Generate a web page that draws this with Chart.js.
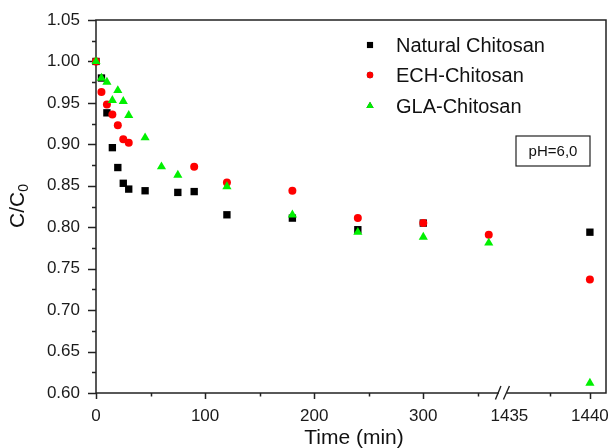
<!DOCTYPE html>
<html>
<head>
<meta charset="utf-8">
<script src="https://cdn.jsdelivr.net/npm/chart.js@4.4.1/dist/chart.umd.min.js"></script>
<style>
  html, body { margin: 0; padding: 0; background: #fff; }
  #wrap { width: 613px; height: 448px; }
</style>
</head>
<body>
<div id="wrap"><canvas id="chart1" width="613" height="448"></canvas></div>
<script>
// data (time in min, C/C0)
var naturalTime = [0, 5, 10, 15, 20, 25, 30, 45, 75, 90, 120, 180, 240, 300, 1440];
var naturalVal  = [1.00, 0.980, 0.938, 0.896, 0.872, 0.853, 0.846, 0.844, 0.842, 0.843, 0.815, 0.811, 0.797, 0.805, 0.794];

var echTime = [0, 5, 10, 15, 20, 25, 30, 90, 120, 180, 240, 300, 360, 1440];
var echVal  = [1.00, 0.963, 0.948, 0.936, 0.923, 0.906, 0.902, 0.873, 0.854, 0.844, 0.811, 0.805, 0.791, 0.737];

var glaTime = [0, 5, 10, 15, 20, 25, 30, 45, 60, 75, 120, 180, 240, 300, 360, 1440];
var glaVal  = [1.00, 0.980, 0.975, 0.953, 0.965, 0.952, 0.935, 0.908, 0.873, 0.863, 0.849, 0.815, 0.794, 0.788, 0.781, 0.612];

var xMajor = [0, 100, 200, 300, 1435, 1440];
var xMinor = [50, 150, 250, 350, 1437.5];
var yMajor = [0.60, 0.65, 0.70, 0.75, 0.80, 0.85, 0.90, 0.95, 1.00, 1.05];

// broken time axis: 0..373 linear, then 1434.6..1441 stretched
var BREAK_LO = 373;
var BREAK_HI = 1434.6;
var STRETCH = 14.76;
function toAxis(t) {
  if (t <= BREAK_LO) return t;
  return BREAK_LO + (t - BREAK_HI) * STRETCH;
}
var X_MAX = toAxis(1441);

function pts(times, vals) {
  return times.map(function (t, i) { return { x: toAxis(t), y: vals[i] }; });
}

function noPad(scale) {
  scale.paddingLeft = 0;
  scale.paddingRight = 0;
  scale.paddingTop = 0;
  scale.paddingBottom = 0;
}

var FONT = "'Liberation Sans', Arial, sans-serif";
var GREEN = "#00f000";

const ctx = document.getElementById("chart1");

var myChart = new Chart(ctx, {
  type: "scatter",
  data: {
    datasets: [
      {
        label: "Natural Chitosan",
        data: pts(naturalTime, naturalVal),
        pointStyle: "rect",
        pointRadius: 5.2,
        backgroundColor: "#000",
        borderWidth: 0,
        legendRadius: 4.3,
        order: 3,
        clip: false,
      },
      {
        label: "ECH-Chitosan",
        data: pts(echTime, echVal),
        pointStyle: "circle",
        pointRadius: 4,
        backgroundColor: "#ff0000",
        borderWidth: 0,
        legendRadius: 3.2,
        order: 2,
        clip: false,
      },
      {
        label: "GLA-Chitosan",
        data: pts(glaTime, glaVal),
        pointStyle: "triangle",
        pointRadius: 5.3,
        backgroundColor: GREEN,
        borderWidth: 0,
        legendRadius: 4.2,
        order: 1,
        clip: false,
      },
    ],
  },
  options: {
    responsive: false,
    animation: false,
    events: [],
    layout: { padding: { top: 20, right: 7, left: 0, bottom: 0 } },
    plugins: {
      legend: { display: false },
      tooltip: { enabled: false },
    },
    scales: {
      x: {
        type: "linear",
        min: 0,
        max: X_MAX,
        grid: { display: false, drawTicks: false },
        border: { display: false },
        afterBuildTicks: function (scale) {
          scale.ticks = xMajor.map(function (t) { return { value: toAxis(t) }; });
        },
        afterFit: function (scale) { scale.height = 55; noPad(scale); },
        ticks: {
          padding: 13,
          maxRotation: 0,
          autoSkip: false,
          color: "#1a1a1a",
          font: { family: FONT, size: 17 },
          callback: function (value, index) { return String(xMajor[index]); },
        },
      },
      y: {
        min: 0.6,
        max: 1.05,
        grid: { display: false, drawTicks: false },
        border: { display: false },
        afterBuildTicks: function (scale) {
          scale.ticks = yMajor.map(function (v) { return { value: v }; });
        },
        afterFit: function (scale) { scale.width = 96; noPad(scale); },
        ticks: {
          padding: 16,
          autoSkip: false,
          color: "#1a1a1a",
          font: { family: FONT, size: 17 },
          callback: function (value) { return value.toFixed(2); },
        },
      },
    },
  },
  plugins: [
    {
      id: "frameAndExtras",
      beforeDatasetsDraw: (chart) => {
        const c = chart.ctx;
        const xs = chart.scales.x, ys = chart.scales.y;
        const { left, right, top, bottom } = chart.chartArea;
        c.save();
        c.strokeStyle = "#222";
        c.lineWidth = 1.5;
        // frame
        c.strokeRect(left, top, right - left, bottom - top);

        // y ticks
        c.beginPath();
        yMajor.forEach(function (v) {
          var py = Math.round(ys.getPixelForValue(v)) + 0.5;
          c.moveTo(left - 8, py); c.lineTo(left, py);
        });
        for (var i = 0; i < yMajor.length - 1; i++) {
          var pm = Math.round(ys.getPixelForValue((yMajor[i] + yMajor[i + 1]) / 2)) + 0.5;
          c.moveTo(left - 4, pm); c.lineTo(left, pm);
        }
        // x ticks
        xMajor.forEach(function (t) {
          if (t === 1435) return; // hidden under the break mark
          var px = Math.round(xs.getPixelForValue(toAxis(t))) + 0.5;
          c.moveTo(px, bottom); c.lineTo(px, bottom + 6);
        });
        xMinor.forEach(function (t) {
          var px = Math.round(xs.getPixelForValue(toAxis(t))) + 0.5;
          c.moveTo(px, bottom); c.lineTo(px, bottom + 3.5);
        });
        c.stroke();

        // axis break "//"
        var bx = xs.getPixelForValue(toAxis(BREAK_LO));
        c.fillStyle = "#fff";
        c.fillRect(bx - 4, bottom - 2, 8, 4);
        c.lineWidth = 1.4;
        c.beginPath();
        c.moveTo(bx - 7.5, bottom + 6.5); c.lineTo(bx - 2, bottom - 7);
        c.moveTo(bx + 0.5, bottom + 6.5); c.lineTo(bx + 6.5, bottom - 7);
        c.stroke();
        c.restore();
      },
      afterDraw: (chart) => {
        const c = chart.ctx;
        const { left, right } = chart.chartArea;
        c.save();
        // legend
        c.fillStyle = "#111";
        c.font = "20px " + FONT;
        c.textBaseline = "middle";
        c.textAlign = "left";
        var legY = [45, 75, 106];
        chart.data.datasets.forEach(function (ds, k) {
          Chart.helpers.drawPoint(c, {
            pointStyle: ds.pointStyle,
            radius: ds.legendRadius,
            borderWidth: 0,
            rotation: 0,
          }, 370, legY[k]);
          c.fillStyle = ds.backgroundColor;
          c.fill();
          c.fillStyle = "#111";
          c.fillText(ds.label, 396, legY[k] + 1);
        });

        // pH box
        c.strokeStyle = "#222";
        c.lineWidth = 1.2;
        c.strokeRect(516, 136, 74, 30);
        c.font = "15px " + FONT;
        c.textAlign = "center";
        c.fillText("pH=6,0", 553, 151.5);

        // axis titles
        c.font = "21px " + FONT;
        c.textAlign = "center";
        c.textBaseline = "middle";
        c.fillText("Time (min)", (left + right) / 2 + 3, 438);

        c.translate(18, 206);
        c.rotate(-Math.PI / 2);
        c.font = "21px " + FONT;
        c.textAlign = "left";
        var w1 = c.measureText("C/C").width;
        c.font = "14px " + FONT;
        var w2 = c.measureText("0").width;
        var x0 = -(w1 + w2) / 2;
        c.font = "21px " + FONT;
        c.fillText("C/C", x0, 0);
        c.font = "14px " + FONT;
        c.fillText("0", x0 + w1, 6);
        c.restore();
      },
    },
  ],
});
</script>
</body>
</html>
